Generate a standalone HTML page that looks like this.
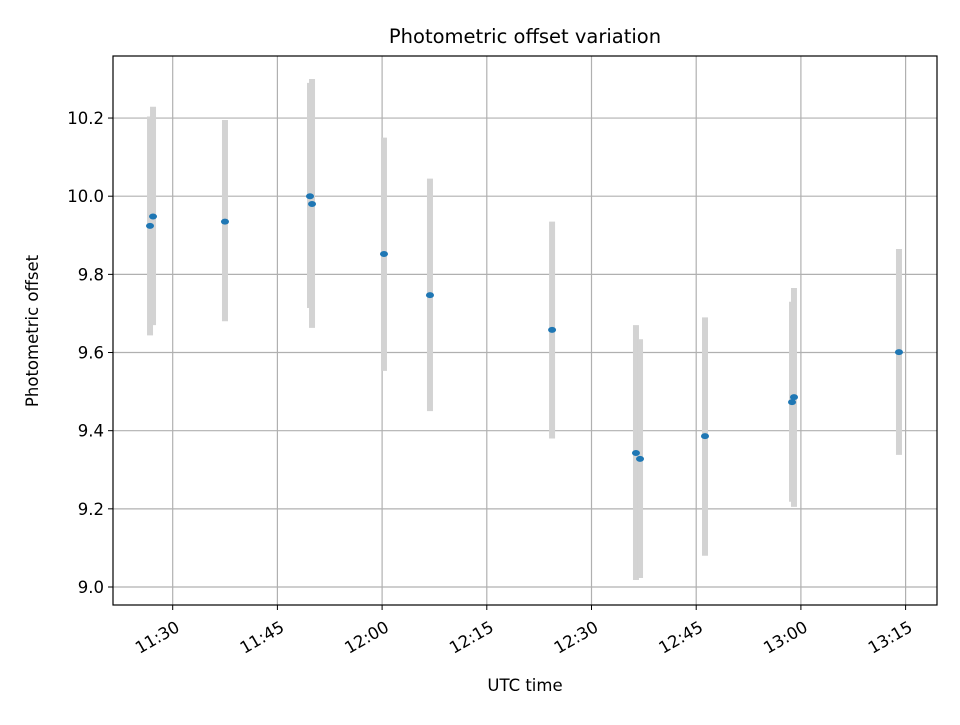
<!DOCTYPE html>
<html><head><meta charset="utf-8"><style>
body{margin:0;background:#fff}
svg text{font-family:"DejaVu Sans","Liberation Sans",sans-serif;fill:#000}
</style></head><body>
<svg id="chart" width="960" height="720" xmlns="http://www.w3.org/2000/svg">
<rect width="960" height="720" fill="#fff"/>
<g id="grid"></g><g id="bars"></g><g id="pts"></g><g id="axes"></g>
<text x="525" y="43" text-anchor="middle" font-size="19.5">Photometric offset variation</text>
<text x="525" y="691" text-anchor="middle" font-size="16.5">UTC time</text>
<text transform="translate(38,331) rotate(-90)" text-anchor="middle" font-size="16.5">Photometric offset</text>
</svg>
<script>
// minutes after 11:30 UTC
const times=[-3.25,-2.82,7.49,19.67,19.96,30.27,36.86,54.35,66.37,66.95,76.26,88.73,89.01,104.05];
const offsets=[9.924,9.948,9.935,10.0,9.98,9.852,9.747,9.658,9.343,9.328,9.386,9.473,9.486,9.601];
const errLow=[0.28,0.278,0.255,0.286,0.317,0.299,0.297,0.278,0.325,0.305,0.306,0.255,0.281,0.263];
const errHigh=[0.28,0.281,0.26,0.29,0.32,0.298,0.298,0.277,0.327,0.306,0.304,0.257,0.279,0.264];
const yTicks=[9.0,9.2,9.4,9.6,9.8,10.0,10.2];
const xTicks=[0,15,30,45,60,75,90,105];
const xTickLabels=["11:30","11:45","12:00","12:15","12:30","12:45","13:00","13:15"];
const L=113,R=937,T=56,B=605;
const xs=m=>172.7+m*6.98;
const ys=v=>587-(v-9.0)*390.8;
const NS="http://www.w3.org/2000/svg";
function mk(parent,tag,attrs){const e=document.createElementNS(NS,tag);for(const k in attrs)e.setAttribute(k,attrs[k]);document.getElementById(parent).appendChild(e);return e;}
yTicks.forEach((v,i)=>{const y=ys(v);
 const g=mk('grid','line',{x1:L,x2:R,y1:y,y2:y,stroke:'#b0b0b0','stroke-width':1.2});
 
 
 const t=mk('axes','line',{x1:L-5,x2:L,y1:y,y2:y,stroke:'#000'});
 
 
 const l=mk('axes','text',{x:L-9,y:y+6,'text-anchor':'end','font-size':16.5});
 l.textContent=v.toFixed(1);
 
 
});
xTicks.forEach((m,i)=>{const x=xs(m);
 const g=mk('grid','line',{x1:x,x2:x,y1:T,y2:B,stroke:'#b0b0b0','stroke-width':1.2});
 
 
 const t=mk('axes','line',{x1:x,x2:x,y1:B,y2:B+5,stroke:'#000'});
 
 
 const l=mk('axes','text',{transform:`translate(${x+2},${B+15}) rotate(-30)`,'text-anchor':'end','font-size':16.5,'dominant-baseline':'hanging'});
 l.textContent=xTickLabels[i];
 
 
});
times.forEach((m,i)=>{const x=xs(m);
 const b=mk('bars','line',{x1:x,x2:x,y1:ys(offsets[i]+errHigh[i]),y2:ys(offsets[i]-errLow[i]),stroke:'#d3d3d3','stroke-width':6});
 
 
 const p=mk('pts','ellipse',{cx:x,cy:ys(offsets[i]),rx:4,ry:3,fill:'#1f77b4'});
 
 
});
const f=mk('axes','rect',{x:L,y:T,width:R-L,height:B-T,fill:'none',stroke:'#000','stroke-width':1.2});


</script>
</body></html>
